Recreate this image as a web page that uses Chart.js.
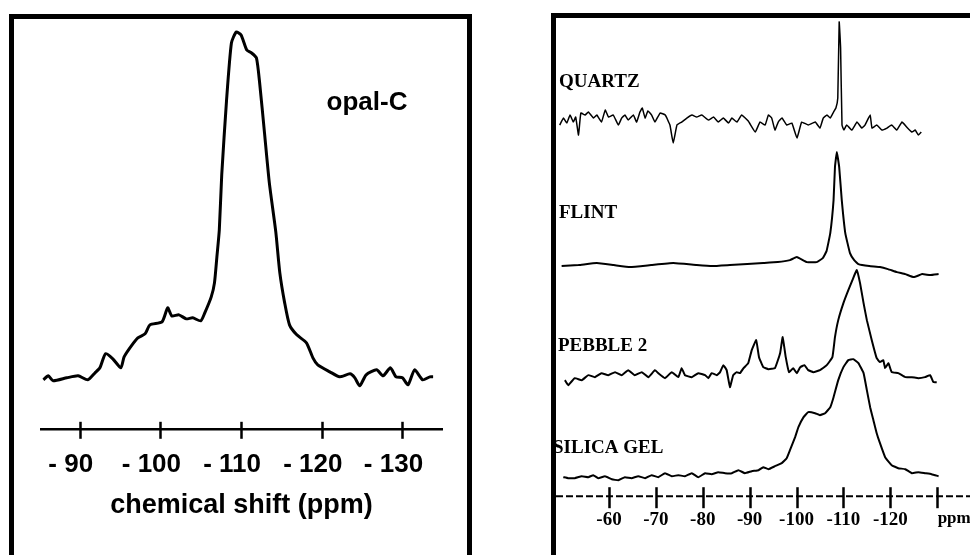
<!DOCTYPE html>
<html>
<head>
<meta charset="utf-8">
<script src="https://cdn.jsdelivr.net/npm/chart.js@4.4.1/dist/chart.umd.min.js"></script>
<style>
  html, body { margin: 0; padding: 0; background: #fff; width: 970px; height: 555px; overflow: hidden; position: relative; }
  canvas { position: absolute; top: 0; }
  #opal { left: 0; }
  #silica { left: 530px; }
  .box { position: absolute; border: 5px solid #000; box-sizing: border-box; pointer-events: none; }
  #box1 { left: 9px; top: 14px; width: 463px; height: 600px; }
  #box2 { left: 551px; top: 13px; width: 500px; height: 600px; }
</style>
</head>
<body>
<canvas id="opal" width="480" height="555"></canvas>
<canvas id="silica" width="440" height="555"></canvas>
<div class="box" id="box1"></div>
<div class="box" id="box2"></div>
<script>
// left panel: opal-C spectrum
const opalPpm = [-85.5,-86.1,-86.7,-88.4,-89.8,-91.0,-91.9,-92.5,-93.2,-94.1,-95.1,-95.5,-96.4,-97.2,-98.1,-98.7,-100.2,-100.9,-101.4,-102.3,-103.2,-104.0,-105.0,-105.5,-106.3,-106.7,-107.0,-107.3,-107.6,-108.2,-108.8,-109.4,-110.0,-110.7,-111.3,-111.9,-112.3,-112.9,-113.5,-114.3,-114.8,-115.4,-116.0,-116.9,-118.1,-118.9,-119.5,-121.0,-122.2,-123.5,-124.1,-124.7,-125.5,-126.8,-127.6,-128.5,-129.2,-130.0,-130.7,-131.5,-132.5,-133.4,-133.8];
const opalInt = [0,4,-1,2,4,0,7,12,26,21,12,23,34,42,46,55,58,72,64,65,61,62,59,67,83,97,123,150,205,280,337,348,345,330,327,322,297,247,197,148,107,77,55,45,37,22,15,8,3,6,2,-6,5,10,4,12,3,2,-5,10,0,3,3];
const opalTicks = [-90,-100,-110,-120,-130];
const opalTickLabels = ['- 90','- 100','- 110','- 120','- 130'];

// right panel: four stacked spectra
const quartzPpm = [-49.5,-50.3,-51.0,-51.7,-52.4,-52.9,-53.5,-54.0,-54.9,-55.6,-56.7,-57.4,-58.4,-59.2,-59.9,-60.9,-62.0,-62.7,-63.4,-64.1,-65.2,-65.9,-66.6,-67.1,-67.7,-68.3,-69.1,-69.8,-70.9,-72.0,-73.0,-73.7,-74.5,-75.5,-76.6,-77.7,-78.7,-79.8,-81.2,-82.3,-83.3,-84.4,-85.5,-86.2,-87.3,-88.3,-89.7,-91.2,-92.2,-93.3,-94.0,-94.7,-95.4,-96.1,-96.9,-97.9,-99.0,-100.1,-101.1,-102.5,-104.0,-105.0,-105.7,-106.5,-107.2,-107.9,-108.4,-108.8,-109.1,-109.4,-109.7,-110.1,-110.7,-111.8,-112.9,-113.9,-114.6,-115.7,-116.1,-117.1,-118.2,-119.3,-120.3,-121.4,-122.5,-123.5,-124.6,-125.3,-126.0,-126.6];
const quartzInt = [0,7,2,10,3,8,-10,12,10,13,7,10,3,15,8,10,0,7,10,5,10,3,13,17,7,14,10,3,12,10,0,-18,0,3,7,10,8,10,5,8,3,7,2,7,3,10,4,-7,3,0,10,7,-5,3,7,0,2,-13,3,0,3,-3,7,10,7,13,17,27,103,77,0,-5,0,-5,3,-3,0,10,-3,0,-5,-3,0,-5,3,-2,-7,-5,-10,-7];
const flintPpm = [-49.9,-53.5,-57.4,-61,-64.5,-69,-73.7,-78.7,-82,-85.8,-89.5,-92.9,-96,-98.6,-100.05,-102.2,-104.3,-105.6,-106.4,-107.2,-107.9,-108.2,-108.6,-109.1,-109.65,-110.4,-111.4,-112.3,-113.2,-115.5,-117.8,-119.5,-121.4,-123.2,-125,-126.8,-128.5,-130.3];
const flintInt = [0,1,3,1,-1,1,3,1,0,1,2,3,4,6,9,4,4,8,15,33,66,99,114,99,66,33,13,6,2,0,-1,-3,-6,-8,-11,-8,-9,-8];
const pebblePpm = [-50.6,-51.3,-52.7,-54.2,-55.6,-57.0,-58.4,-59.85,-61.3,-62.7,-64.1,-65.5,-67.0,-68.4,-69.8,-70.5,-71.95,-73.4,-74.8,-75.5,-76.2,-77.65,-79.05,-80.5,-81.2,-81.9,-83.0,-83.7,-84.4,-85.1,-85.8,-86.5,-87.25,-87.95,-88.7,-89.7,-90.45,-91.4,-92.0,-92.9,-94.0,-95.4,-96.5,-97.05,-97.7,-98.4,-99.3,-100.05,-100.8,-101.7,-102.5,-103.6,-105.0,-106.45,-107.65,-108.2,-108.9,-110.0,-111.05,-112.1,-112.85,-113.55,-114.3,-115.0,-116.05,-117.1,-117.8,-118.5,-118.9,-119.6,-120.3,-121.7,-123.2,-124.6,-126.0,-127.4,-128.5,-129.2,-129.9];
const pebbleInt = [0,-5,2,0,5,3,7,5,8,5,10,5,8,3,10,7,2,8,3,12,5,3,7,5,2,7,5,8,15,10,-7,5,8,7,12,17,30,40,23,13,11,12,27,43,23,8,12,7,13,15,10,8,10,15,23,43,60,77,90,102,110,97,77,60,40,22,18,20,12,17,8,7,3,3,2,3,5,-2,-2];
const silicaPpm = [-50.25,-51.3,-52.7,-54.2,-55.6,-56.65,-57.7,-59.15,-60.6,-62.0,-63.4,-64.8,-66.25,-67.7,-69.1,-70.5,-71.95,-73.4,-74.8,-76.2,-77.65,-79.05,-80.5,-81.9,-83.3,-84.75,-86.2,-87.6,-89.0,-90.45,-91.9,-92.9,-94.0,-95.4,-96.85,-97.9,-98.6,-99.7,-100.4,-101.5,-102.5,-103.95,-105.0,-106.1,-107.2,-107.9,-108.9,-110.0,-111.05,-112.1,-113.2,-114.3,-115.0,-115.7,-116.4,-117.1,-117.8,-118.9,-120.3,-121.7,-123.2,-124.6,-126.0,-127.4,-128.8,-130.3];
const silicaInt = [1,0,0,2,1,3,0,2,-1,-2,1,0,2,0,3,1,5,2,3,2,5,1,5,4,6,5,5,8,5,7,8,11,9,12,15,20,28,41,51,61,66,65,63,65,71,81,98,111,118,119,115,105,88,71,58,45,35,21,13,10,9,5,6,5,4,2];
const traceNames = ['QUARTZ','FLINT','PEBBLE 2','SILICA GEL'];
const traceOffsets = [371, 230, 116, 18];
const sampleTicks = [-60,-70,-80,-90,-100,-110,-120,-130];
const sampleTickLabels = ['-60','-70','-80','-90','-100','-110','-120','ppm'];

const pts = (xs, ys, off) => xs.map((x, i) => ({ x: x, y: ys[i] + (off || 0) }));

// axis line (optionally dashed) and tick marks that cross it
const crossTicks = {
  id: 'crossTicks',
  afterDraw(chart, args, opts) {
    const { ctx, chartArea, scales: { x } } = chart;
    ctx.save();
    ctx.strokeStyle = '#000';
    if (opts.dash) {
      ctx.lineWidth = opts.axisWidth;
      ctx.setLineDash(opts.dash);
      ctx.beginPath();
      ctx.moveTo(chartArea.left, chartArea.bottom);
      ctx.lineTo(chartArea.right, chartArea.bottom);
      ctx.stroke();
      ctx.setLineDash([]);
    }
    ctx.lineWidth = opts.width;
    x.ticks.forEach(t => {
      const px = Math.round(x.getPixelForValue(t.value)) + 0.5;
      ctx.beginPath();
      ctx.moveTo(px, chartArea.bottom - opts.up);
      ctx.lineTo(px, chartArea.bottom + opts.down);
      ctx.stroke();
    });
    ctx.restore();
  }
};

const textLabels = {
  id: 'textLabels',
  afterDraw(chart, args, opts) {
    const { ctx, scales: { x, y } } = chart;
    ctx.save();
    ctx.fillStyle = '#000';
    ctx.font = opts.font;
    ctx.textAlign = opts.align;
    ctx.textBaseline = 'alphabetic';
    opts.items.forEach(it => {
      const px = it.ppm !== undefined ? x.getPixelForValue(it.ppm) : chart.chartArea.left + it.dx;
      ctx.fillText(it.text, px, y.getPixelForValue(it.y));
    });
    ctx.restore();
  }
};

const noEdgePadding = s => { s.paddingLeft = 0; s.paddingRight = 0; };

new Chart('opal', {
  type: 'line',
  data: {
    datasets: [{
      data: pts(opalPpm, opalInt),
      borderColor: '#000',
      borderWidth: 3,
      pointRadius: 0,
      tension: 0.2
    }]
  },
  options: {
    responsive: false,
    animation: false,
    layout: { padding: { left: 41, right: 38, top: 19, bottom: 30 } },
    scales: {
      x: {
        type: 'linear',
        min: -134.9,
        max: -85.2,
        reverse: true,
        afterBuildTicks: s => { s.ticks = opalTicks.map(v => ({ value: v })); },
        afterFit: noEdgePadding,
        grid: { display: false, drawTicks: true, tickLength: 20 },
        border: { display: true, color: '#000', width: 2.5 },
        ticks: {
          color: '#000',
          padding: 0,
          labelOffset: -9,
          maxRotation: 0,
          autoSkip: false,
          font: { family: 'Liberation Sans, Arial, sans-serif', size: 26, weight: 'bold' },
          callback: v => opalTickLabels[opalTicks.indexOf(v)]
        },
        title: {
          display: true,
          text: 'chemical shift (ppm)',
          color: '#000',
          padding: { top: 9.6, bottom: 3 },
          font: { family: 'Liberation Sans, Arial, sans-serif', size: 27, weight: 'bold' }
        }
      },
      y: { display: false, min: -49, max: 361 }
    },
    plugins: {
      legend: { display: false },
      tooltip: { enabled: false },
      crossTicks: { up: 7, down: 10, width: 2.5 },
      textLabels: {
        font: 'bold 26px "Liberation Sans", Arial, sans-serif',
        align: 'center',
        items: [{ text: 'opal-C', ppm: -125.6, y: 270 }]
      }
    }
  },
  plugins: [crossTicks, textLabels]
});

const serif = '"Liberation Serif", "Times New Roman", serif';
const traceData = [
  [quartzPpm, quartzInt, 1.5],
  [flintPpm, flintInt, 2],
  [pebblePpm, pebbleInt, 2],
  [silicaPpm, silicaInt, 2]
];

new Chart('silica', {
  type: 'line',
  data: {
    datasets: traceData.map((d, i) => ({
      label: traceNames[i],
      data: pts(d[0], d[1], traceOffsets[i]),
      borderColor: '#000',
      borderWidth: d[2],
      pointRadius: 0,
      tension: 0.1
    }))
  },
  options: {
    responsive: false,
    animation: false,
    layout: { padding: { left: 26, right: 0, top: 18, bottom: 24 } },
    scales: {
      x: {
        type: 'linear',
        min: -137.0,
        max: -48.7,
        reverse: true,
        afterBuildTicks: s => { s.ticks = sampleTicks.map(v => ({ value: v })); },
        afterFit: noEdgePadding,
        grid: { display: false, drawTicks: true, tickLength: 12 },
        border: { display: false },
        ticks: {
          color: '#000',
          padding: 0,
          maxRotation: 0,
          autoSkip: false,
          font: ctx => (ctx.tick && ctx.tick.value === -130)
            ? { family: serif, size: 17, weight: 'bold' }
            : { family: serif, size: 19, weight: 'bold' },
          callback: v => (v === -130 ? '\u2003\u2003' : '') + sampleTickLabels[sampleTicks.indexOf(v)]
        }
      },
      y: { display: false, min: 0, max: 478 }
    },
    plugins: {
      legend: { display: false },
      tooltip: { enabled: false },
      crossTicks: { up: 9, down: 12, width: 2.5, dash: [7, 3], axisWidth: 2 },
      textLabels: {
        font: 'bold 19px ' + serif,
        align: 'left',
        items: [
          { text: traceNames[0], dx: 3, y: traceOffsets[0] + 38 },
          { text: traceNames[1], dx: 3, y: traceOffsets[1] + 48 },
          { text: traceNames[2], dx: 2, y: traceOffsets[2] + 29 },
          { text: traceNames[3], dx: -3, y: traceOffsets[3] + 25 }
        ]
      }
    }
  },
  plugins: [crossTicks, textLabels]
});
</script>
</body>
</html>
